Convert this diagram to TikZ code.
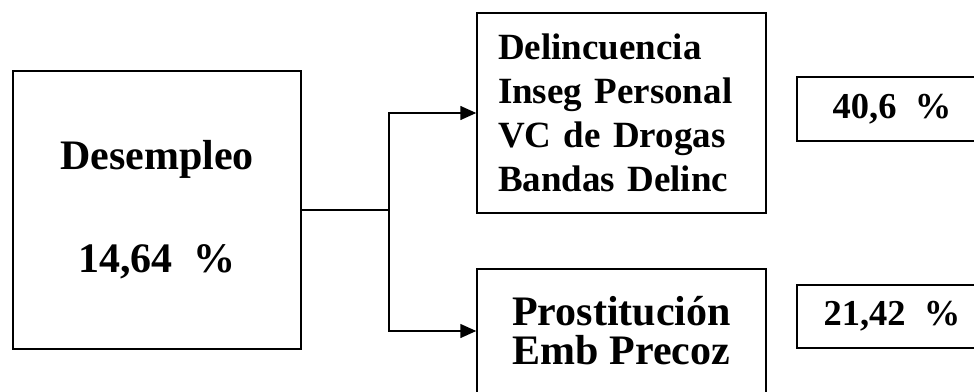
\documentclass[tikz,border=0pt]{standalone}
\usepackage{fontspec}
\setmainfont{Liberation Serif}
\usetikzlibrary{arrows.meta}
\begin{document}
\begin{tikzpicture}[x=1pt,y=-1pt,
  box/.style={draw=black, line width=1.5pt, inner sep=0pt},
  conn/.style={draw=black, line width=1.5pt},
  arr/.style={conn, -{Triangle[length=16pt,width=14pt]}}]
\useasboundingbox (0,0) rectangle (974,391);
\clip (0,0) rectangle (974,391);
\fill[white] (0,0) rectangle (974,391);
\node[box, minimum width=288pt, minimum height=278pt, align=center,
  font=\bfseries\fontsize{42}{103}\selectfont] (L) at (157,210) {Desempleo\\14,64\ \ \%};
\node[box, minimum width=289pt, minimum height=200pt, inner xsep=21pt, text width=247pt, align=left,
  font=\bfseries\fontsize{37}{44}\selectfont] (T) at (621.5,113)
  {Delincuencia\\Inseg Personal\\VC de Drogas\\Bandas Delinc};
\node[box, minimum width=289pt, minimum height=124pt, align=center,
  font=\bfseries\fontsize{42}{39}\selectfont] (B) at (621.5,331) {Prostitución\\Emb Precoz};
\node[box, minimum width=190pt, minimum height=64pt,
  font=\bfseries\fontsize{36.5}{40}\selectfont] (R1) at (892,109) {40,6\ \ \%};
\node[box, minimum width=190pt, minimum height=63pt,
  font=\bfseries\fontsize{36.5}{40}\selectfont] (R2) at (892,316.5) {21,42\ \ \%};
\coordinate (j) at (389,210);
\draw[conn] (L.east) -- (j);
\draw[arr] (j) |- (T.west);
\draw[arr] (j) |- (B.west);
\end{tikzpicture}
\end{document}
